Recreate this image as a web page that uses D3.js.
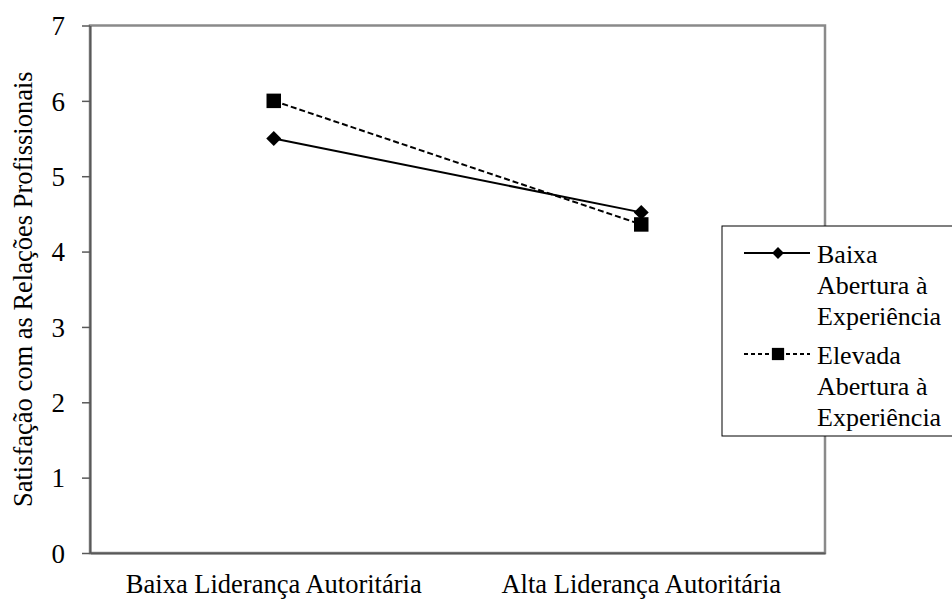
<!DOCTYPE html>
<html>
<head>
<meta charset="utf-8">
<script src="https://cdn.jsdelivr.net/npm/d3@7"></script>
<style>
  body { margin: 0; background: #fff; font-family: "Liberation Serif", serif; }
</style>
</head>
<body>
<div id="chart"></div>
<script>
/* D3 interaction line chart */

const categories = ["Baixa Liderança Autoritária", "Alta Liderança Autoritária"];
const lowOpenness = [5.5, 4.52];
const highOpenness = [6.0, 4.36];
const seriesNames = [["Baixa", "Abertura à", "Experiência"], ["Elevada", "Abertura à", "Experiência"]];
const yTicks = [0, 1, 2, 3, 4, 5, 6, 7];

const serif = "Liberation Serif";

const width = 952,
  height = 599,
  margin = ({ top: 25.5, right: 127, bottom: 46, left: 90 });

const svg = d3.select("#chart")
  .append("svg")
  .attr("width", width)
  .attr("height", height)
  .attr("font-family", serif);

let x = d3.scaleBand()
  .domain(categories)
  .range([margin.left, width - margin.right]);

let y = d3.scaleLinear()
  .domain([0, 7])
  .range([height - margin.bottom, margin.top]);

// plot frame (grey top & right)
svg.append("rect")
  .attr("x", margin.left)
  .attr("y", margin.top)
  .attr("width", width - margin.right - margin.left)
  .attr("height", height - margin.bottom - margin.top)
  .attr("fill", "none")
  .attr("stroke", "#8a8a8a")
  .attr("stroke-width", 2.5);

let yAxis = svg.append("g")
  .attr("transform", `translate(${margin.left},0)`)
  .call(d3.axisLeft(y).tickValues(yTicks).tickFormat(d3.format("d")).tickSize(8).tickSizeOuter(0).tickPadding(17));
yAxis.attr("font-family", serif).attr("font-size", 27);
yAxis.select(".domain").attr("stroke", "#595959").attr("stroke-width", 2);
yAxis.selectAll(".tick line").attr("stroke", "#595959").attr("stroke-width", 1.5);
yAxis.selectAll(".tick text").attr("font-family", serif).attr("dy", "0.34em");

let xAxis = svg.append("g")
  .attr("transform", `translate(0,${height - margin.bottom})`)
  .call(d3.axisBottom(x).tickSize(0).tickSizeOuter(0).tickPadding(21));
xAxis.attr("font-family", serif).attr("font-size", 26.5);
xAxis.select(".domain").attr("stroke", "#595959").attr("stroke-width", 2);
xAxis.selectAll(".tick text").attr("font-family", serif);

svg.append("text")
  .attr("text-anchor", "middle")
  .attr("transform", `translate(32,${(margin.top + height - margin.bottom) / 2}) rotate(-90)`)
  .attr("font-family", serif)
  .attr("font-size", 26.5)
  .text("Satisfação com as Relações Profissionais");

let cx = d => x(d) + x.bandwidth() / 2;

let line = d3.line()
  .x((d, i) => cx(categories[i]))
  .y(d => y(d));

const diamond = d3.symbol().type(d3.symbolSquare).size(112);
const square = d3.symbol().type(d3.symbolSquare).size(210);

// low openness: solid + diamonds
svg.append("path")
  .datum(lowOpenness)
  .attr("d", line)
  .attr("fill", "none")
  .attr("stroke", "#000")
  .attr("stroke-width", 2);

// high openness: dashed + squares
svg.append("path")
  .datum(highOpenness)
  .attr("d", line)
  .attr("fill", "none")
  .attr("stroke", "#000")
  .attr("stroke-width", 2)
  .attr("stroke-dasharray", "6,3");

svg.selectAll(".sq")
  .data(highOpenness)
  .join("path")
  .attr("transform", (d, i) => `translate(${cx(categories[i])},${y(d)})`)
  .attr("d", square)
  .attr("fill", "#000");

svg.selectAll(".dm")
  .data(lowOpenness)
  .join("path")
  .attr("transform", (d, i) => `translate(${cx(categories[i])},${y(d)}) rotate(45)`)
  .attr("d", diamond)
  .attr("fill", "#000");

// legend
let legend = svg.append("g").attr("transform", "translate(722,226)");
legend.append("rect")
  .attr("width", 240)
  .attr("height", 210)
  .attr("fill", "#fff")
  .attr("stroke", "#000")
  .attr("stroke-width", 1);

seriesNames.forEach((lines, k) => {
  let base = 37 + k * 101;
  let ly = base - 10;
  legend.append("line")
    .attr("x1", 22).attr("x2", 88)
    .attr("y1", ly).attr("y2", ly)
    .attr("stroke", "#000")
    .attr("stroke-width", 2)
    .attr("stroke-dasharray", k ? "4,3" : null);
  legend.append("path")
    .attr("transform", `translate(56,${ly})` + (k ? "" : " rotate(45)"))
    .attr("d", k ? d3.symbol().type(d3.symbolSquare).size(150) : d3.symbol().type(d3.symbolSquare).size(70))
    .attr("fill", "#000");
  lines.forEach((t, j) => {
    legend.append("text")
      .attr("x", 95)
      .attr("y", base + j * 31)
      .attr("font-family", serif)
      .attr("font-size", 26)
      .text(t);
  });
});
</script>
</body>
</html>
